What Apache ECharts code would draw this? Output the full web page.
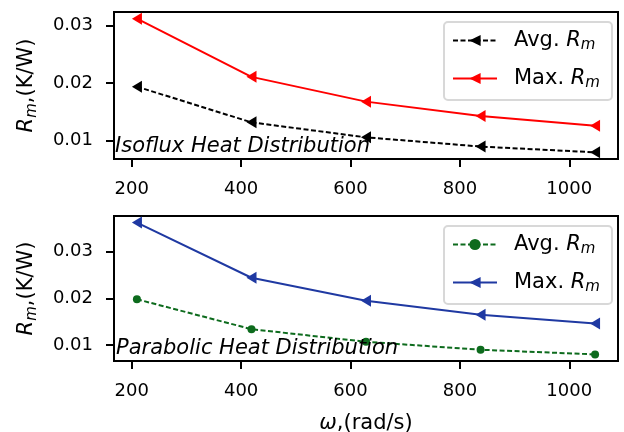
<!DOCTYPE html>
<html>
<head>
<meta charset="utf-8">
<script src="https://cdn.jsdelivr.net/npm/echarts@6/dist/echarts.min.js"></script>
<style>
  html, body { margin: 0; padding: 0; background: #fff; }
  #chart { width: 624px; height: 432px; }
</style>
</head>
<body>
<div id="chart"></div>
<script>
// Rotational speed (rad/s) and thermal resistance values (K/W)
const omega = [209.4, 418.9, 628.3, 837.8, 1047.2];
const isofluxAvg = [0.0194, 0.0132, 0.0106, 0.0090, 0.0080];
const isofluxMax = [0.0312, 0.0211, 0.0168, 0.0143, 0.0126];
const parabolicAvg = [0.0198, 0.0134, 0.0107, 0.0090, 0.0080];
const parabolicMax = [0.0362, 0.0244, 0.0195, 0.0165, 0.0146];
const xTicks = [200, 400, 600, 800, 1000];
const yTicks = [0.01, 0.02, 0.03];
const panelTitles = ['Isoflux Heat Distribution', 'Parabolic Heat Distribution'];

const FONT = 'DejaVu Sans';
const TICK_SIZE = 18;
const TEXT_SIZE = 21;
const SUB_SIZE = 15;

// 5% margin on each side of the data extent
function padded(values) {
  const lo = Math.min(...values), hi = Math.max(...values);
  const p = 0.05 * (hi - lo);
  return [lo - p, hi + p];
}
const xr = padded(omega);
const y0 = padded(isofluxAvg.concat(isofluxMax));
const y1 = padded(parabolicAvg.concat(parabolicMax));

const pairs = (ys) => omega.map((x, i) => [x, ys[i]]);

const richRm = {
  n: { fontFamily: FONT, fontSize: TEXT_SIZE, color: '#000', lineHeight: 26 },
  i: { fontFamily: FONT, fontSize: TEXT_SIZE, fontStyle: 'italic', color: '#000', lineHeight: 26 },
  s: { fontFamily: FONT, fontSize: SUB_SIZE, fontStyle: 'italic', color: '#000', lineHeight: 26, padding: [10, 0, 0, 0] }
};
// legend labels sit a little further from their line samples
const richLegend = Object.assign({}, richRm, {
  n: Object.assign({}, richRm.n, { padding: [0, 0, 0, 12] })
});
const legendLabel = { isoAvg: 'Avg. ', isoMax: 'Max. ', parAvg: 'Avg. ', parMax: 'Max. ' };

function xAxis(gridIndex) {
  return {
    type: 'value', gridIndex, min: xr[0], max: xr[1],
    splitLine: { show: false },
    axisLine: { show: true, lineStyle: { color: '#000', width: 2 } },
    axisTick: { show: true, length: 8, lineStyle: { color: '#000', width: 2 }, customValues: xTicks },
    axisLabel: { customValues: xTicks, fontFamily: FONT, fontSize: TICK_SIZE, color: '#000', margin: 21,
                 formatter: (v) => String(v) },
    name: gridIndex === 1 ? '{w|ω},(rad/s)' : '',
    nameLocation: 'middle', nameGap: 52,
    nameTextStyle: {
      fontFamily: FONT, fontSize: TEXT_SIZE, color: '#000',
      rich: { w: { fontFamily: FONT, fontSize: TEXT_SIZE, fontStyle: 'italic', color: '#000' } }
    }
  };
}
function yAxis(gridIndex, range) {
  return {
    type: 'value', gridIndex, min: range[0], max: range[1],
    splitLine: { show: false },
    axisLine: { show: true, lineStyle: { color: '#000', width: 2 } },
    axisTick: { show: true, length: 8, lineStyle: { color: '#000', width: 2 }, customValues: yTicks },
    axisLabel: { customValues: yTicks, fontFamily: FONT, fontSize: TICK_SIZE, color: '#000', margin: 21,
                 formatter: (v) => v.toFixed(2) },
    name: '{i|R}{s|m}{n|,(K/W)}',
    nameLocation: 'middle', nameRotate: 90, nameGap: 74,
    nameTextStyle: { rich: richRm }
  };
}
function lineSeries(name, idx, data, color, dashed, symbol) {
  return {
    name, type: 'line', xAxisIndex: idx, yAxisIndex: idx, data: pairs(data),
    symbol, symbolSize: symbol === 'circle' ? 8 : [12, 10], symbolRotate: symbol === 'circle' ? 0 : 90,
    showSymbol: true,
    lineStyle: { color, width: 2, type: dashed ? [5, 2.5] : 'solid' },
    itemStyle: { color, borderWidth: 0 },
    emphasis: { disabled: true },
    z: 3
  };
}
function legend(names, top) {
  return {
    data: names, orient: 'vertical', left: 444, top,
    itemWidth: 44, itemHeight: 14, itemGap: 13,
    padding: [6, 12, 9, 8],
    backgroundColor: 'rgba(255,255,255,0.8)',
    borderColor: '#d8d8d8', borderWidth: 2, borderRadius: 4,
    selectedMode: false,
    formatter: (n) => '{n|' + legendLabel[n] + '}{i|R}{s|m}',
    textStyle: { rich: richLegend }
  };
}

const chart = echarts.init(document.getElementById('chart'), null, { renderer: 'canvas' });
chart.setOption({
  animation: false,
  backgroundColor: '#fff',
  grid: [
    { left: 114, top: 12, width: 504, height: 147, show: true, borderColor: '#000', borderWidth: 2,
      containLabel: false, outerBoundsMode: 'none' },
    { left: 114, top: 216, width: 504, height: 145, show: true, borderColor: '#000', borderWidth: 2,
      containLabel: false, outerBoundsMode: 'none' }
  ],
  xAxis: [xAxis(0), xAxis(1)],
  yAxis: [yAxis(0, y0), yAxis(1, y1)],
  legend: [legend(['isoAvg', 'isoMax'], 22), legend(['parAvg', 'parMax'], 226)],
  series: [
    lineSeries('isoAvg', 0, isofluxAvg, '#000000', true, 'triangle'),
    lineSeries('isoMax', 0, isofluxMax, '#ff0000', false, 'triangle'),
    lineSeries('parAvg', 1, parabolicAvg, '#0d6b1d', true, 'circle'),
    lineSeries('parMax', 1, parabolicMax, '#1f39a2', false, 'triangle')
  ],
  graphic: [
    { type: 'text', left: 115, top: 136, z: 10,
      style: { text: panelTitles[0], font: 'italic 21px "DejaVu Sans"', fill: '#000' } },
    { type: 'text', left: 116, top: 338, z: 10,
      style: { text: panelTitles[1], font: 'italic 21px "DejaVu Sans"', fill: '#000' } }
  ]
});
</script>
</body>
</html>
